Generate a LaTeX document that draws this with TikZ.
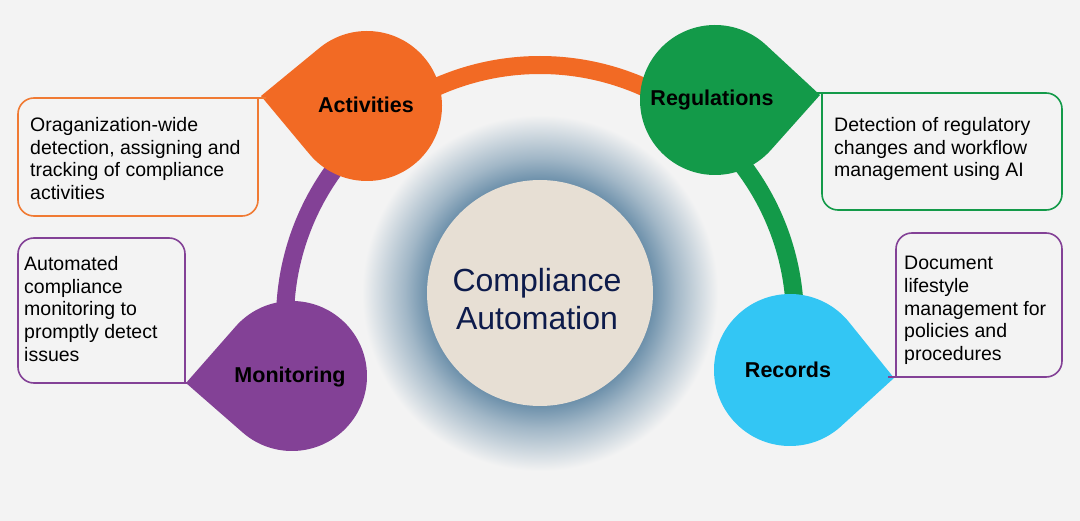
\documentclass[tikz,border=0pt]{standalone}
\usepackage{fontspec}
\setmainfont{Liberation Sans}
\usetikzlibrary{calc}
\definecolor{bg}{HTML}{F3F3F3}
\definecolor{cOr}{HTML}{F26A24}
\definecolor{cGr}{HTML}{139A49}
\definecolor{cPu}{HTML}{834196}
\definecolor{cBl}{HTML}{33C6F4}
\definecolor{cBox}{HTML}{F07A33}
\definecolor{glowc}{HTML}{5F86A3}
\definecolor{beige}{HTML}{E7DFD4}
\definecolor{navy}{HTML}{0D1B4B}
\pgfdeclareradialshading{glow}{\pgfpoint{0bp}{0bp}}{color(0bp)=(glowc); color(15bp)=(glowc); color(19bp)=(glowc!55!bg); color(25bp)=(bg); color(50bp)=(bg)}
\tikzset{
  boxtxt/.style={anchor=north west, inner sep=0pt, align=left, font=\fontsize{19.5}{22.7}\selectfont, text=black},
  lbl/.style={font=\fontsize{21.5}{24}\selectfont\bfseries, text=black, inner sep=0pt},
  band/.style={line width=18pt},
  boxline/.style={line width=1.6pt, rounded corners=16pt}
}
\begin{document}
\begin{tikzpicture}[x=1pt,y=-1pt]
\fill[bg] (0,0) rectangle (1080,521);
\useasboundingbox (0,0) rectangle (1080,521);
% glow
\shade[shading=glow] (540,293) circle[radius=178pt];
% arc
\coordinate (O) at (540,320);
\draw[band,cPu] ($(O)+(180:255pt)$) arc[start angle=180,end angle=128,radius=255pt];
\draw[band,cOr] ($(O)+(128:255pt)$) arc[start angle=128,end angle=52,radius=255pt];
\draw[band,cGr] ($(O)+(52:255pt)$) arc[start angle=52,end angle=-2,radius=255pt];
% teardrops
\coordinate (ca) at (367,106);
\coordinate (cr) at (715,100);
\coordinate (cm) at (292,376);
\coordinate (cc) at (790,370);
\fill[cOr] ($(ca)+(-106pt,10pt)$) -- ($(ca)+(130:75pt)$) arc[start angle=130,end angle=-140,radius=75pt] -- cycle;
\fill[cGr] ($(cr)+(105pt,5pt)$) -- ($(cr)+(48:75pt)$) arc[start angle=48,end angle=318,radius=75pt] -- cycle;
\fill[cPu] ($(cm)+(-106pt,-7pt)$) -- ($(cm)+(139:75pt)$) arc[start angle=139,end angle=-131,radius=75pt] -- cycle;
\fill[cBl] ($(cc)+(104pt,-8pt)$) -- ($(cc)+(40.5:76pt)$) arc[start angle=40.5,end angle=310.5,radius=76pt] -- cycle;
\node[lbl] (la) at (366,105) {Activities};
\node[lbl] (lr) at (712,100) {Regulations};
\node[lbl] (lm) at (290,377) {Monitoring};
\node[lbl] (lc) at (788,370) {Records};
% center
\fill[beige] (540,293) circle[radius=113pt];
\node[font=\fontsize{32}{38}\selectfont, text=navy, align=center] (ctr) at (537,299) {Compliance\\Automation};
% boxes
\draw[boxline,cBox,fill=bg] (258,160) -- (258,216) -- (18,216) -- (18,98) -- (250,98) [sharp corners] -- (258,98) -- cycle;
\node[boxtxt] (ta) at (30,117) {Oraganization-wide\\detection, assigning and\\tracking of compliance\\activities};
\draw[boxline,cGr,fill=bg] (822,150) -- (822,210) -- (1062,210) -- (1062,93) -- (830,93) [sharp corners] -- (822,93) -- cycle;
\node[boxtxt] (tr) at (834,117) {Detection of regulatory\\changes and workflow\\management using AI};
\draw[boxline,cPu,fill=bg] (185,300) -- (185,238) -- (18,238) -- (18,383) -- (177,383) [sharp corners] -- (185,383) -- cycle;
\node[boxtxt] (tm) at (24,256) {Automated\\compliance\\monitoring to\\promptly detect\\issues};
\draw[boxline,cPu,fill=bg] (896,300) -- (896,233) -- (1062,233) -- (1062,377) -- (904,377) [sharp corners] -- (896,377) -- cycle;
\node[boxtxt] (tc) at (904,256) {Document\\lifestyle\\management for\\policies and\\procedures};
\end{tikzpicture}
\end{document}
